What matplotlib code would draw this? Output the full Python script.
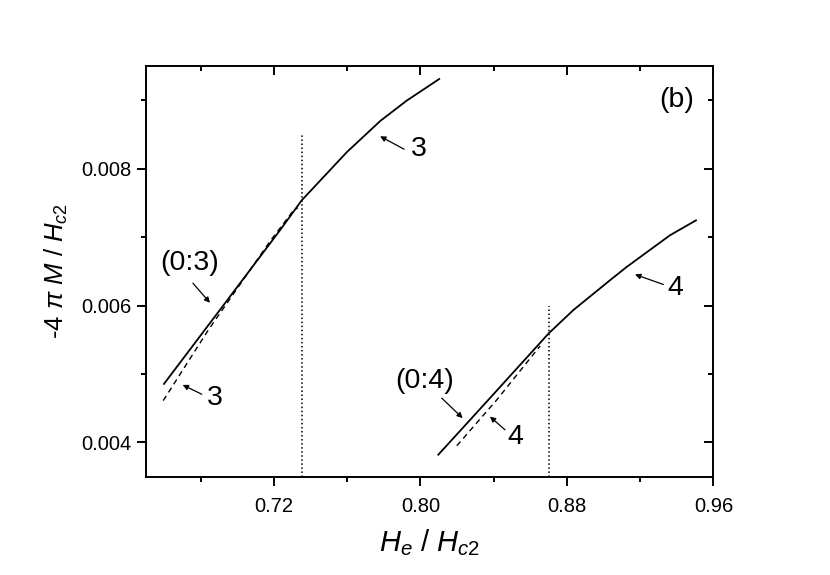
import numpy as np
import matplotlib.pyplot as plt
from matplotlib.ticker import MultipleLocator

plt.rcParams['font.family'] = ['Liberation Sans', 'DejaVu Sans']
plt.rcParams['mathtext.fontset'] = 'custom'
plt.rcParams['mathtext.rm'] = 'Liberation Sans'
plt.rcParams['mathtext.it'] = 'Liberation Sans:italic'

# curve (0:3) / 3, solid
x3_solid = [0.6600, 0.6917, 0.7233, 0.7352, 0.7598, 0.7783, 0.7925, 0.8103]
y3_solid = [0.004856, 0.005978, 0.007100, 0.007538, 0.008242, 0.008703, 0.008995, 0.009312]
# curve 3, dashed
x3_dash = [0.6596, 0.6842, 0.7179, 0.7299, 0.7330]
y3_dash = [0.004612, 0.005643, 0.006940, 0.007363, 0.007430]
# curve (0:4) / 4, solid
x4_solid = [0.8098, 0.8371, 0.8701, 0.8835, 0.9036, 0.9127, 0.9363, 0.9505]
y4_solid = [0.003821, 0.004622, 0.005595, 0.005934, 0.006372, 0.006566, 0.007028, 0.007246]
# curve 4, dashed
x4_dash = [0.8199, 0.8417, 0.8636, 0.8654]
y4_dash = [0.003952, 0.004622, 0.005351, 0.005410]
# vertical dotted markers
x_vlines = [0.7352, 0.8701]
y_vtops = [0.0085, 0.0060]

fig = plt.figure(figsize=(8.3, 5.75), dpi=100)
ax = fig.add_axes([0.1755, 0.171, 0.684, 0.714])

ax.plot(x3_solid, y3_solid, '-', color='black', lw=1.3)
ax.plot(x3_dash, y3_dash, '--', color='black', lw=1.0, dashes=(4, 3))
ax.plot(x4_solid, y4_solid, '-', color='black', lw=1.3)
ax.plot(x4_dash, y4_dash, '--', color='black', lw=1.0, dashes=(4, 3))
for xv, yt in zip(x_vlines, y_vtops):
    ax.plot([xv, xv], [0.0035, yt], ':', color='black', lw=1.1)

ax.set_xlim(0.65, 0.96)
ax.set_ylim(0.0035, 0.0095)

ax.xaxis.set_major_locator(MultipleLocator(0.08))
ax.xaxis.set_minor_locator(MultipleLocator(0.04))
ax.yaxis.set_major_locator(MultipleLocator(0.002))
ax.yaxis.set_minor_locator(MultipleLocator(0.001))
ax.xaxis.set_major_formatter(plt.FuncFormatter(lambda v, p: '%.2f' % v))
ax.yaxis.set_major_formatter(plt.FuncFormatter(lambda v, p: '%.3f' % v))

for s in ax.spines.values():
    s.set_linewidth(1.4)
ax.tick_params(which='both', direction='out', width=1.4, labelsize=14.5)
ax.tick_params(which='major', length=6.5)
ax.tick_params(which='minor', length=3.6)
ax.tick_params(axis='x', which='major', pad=8)
ax.tick_params(which='both', top=True, right=True)
# top/right ticks point inwards
for t in ax.xaxis.get_ticklines(minor=False)[1::2] + ax.xaxis.get_ticklines(minor=True)[1::2]:
    t.set_marker(3)
for t in ax.yaxis.get_ticklines(minor=False)[1::2] + ax.yaxis.get_ticklines(minor=True)[1::2]:
    t.set_marker(0)

ax.set_xlabel(r'$H_e$ / $H_{c2}$', fontsize=21, labelpad=8)
ax.set_ylabel(r'-4 $\pi$ $M$ / $H_{c2}$', fontsize=18.5, labelpad=8)

arrow = dict(arrowstyle='-|>', color='black', lw=0.9, mutation_scale=8, shrinkA=0, shrinkB=0)
fs = 20.5
ax.text(0.6742, 0.00662, '(0:3)', fontsize=fs, ha='center', va='center')
ax.annotate('', xy=(0.6851, 0.006041), xytext=(0.6758, 0.006328), arrowprops=arrow)
ax.text(0.6880, 0.004647, '3', fontsize=fs, ha='center', va='center')
ax.annotate('', xy=(0.6702, 0.004841), xytext=(0.6806, 0.004705), arrowprops=arrow)
ax.text(0.7990, 0.008291, '3', fontsize=fs, ha='center', va='center')
ax.annotate('', xy=(0.7780, 0.008475), xytext=(0.7911, 0.008286), arrowprops=arrow)
ax.text(0.9390, 0.006251, '4', fontsize=fs, ha='center', va='center')
ax.annotate('', xy=(0.9172, 0.006455), xytext=(0.9327, 0.006309), arrowprops=arrow)
ax.text(0.8025, 0.00490, '(0:4)', fontsize=fs, ha='center', va='center')
ax.annotate('', xy=(0.8231, 0.004356), xytext=(0.8117, 0.004647), arrowprops=arrow)
ax.text(0.8520, 0.004087, '4', fontsize=fs, ha='center', va='center')
ax.annotate('', xy=(0.8380, 0.004379), xytext=(0.8462, 0.004185), arrowprops=arrow)
ax.text(0.9400, 0.0090, '(b)', fontsize=fs, ha='center', va='center')

fig.savefig('out.png', dpi=100)
